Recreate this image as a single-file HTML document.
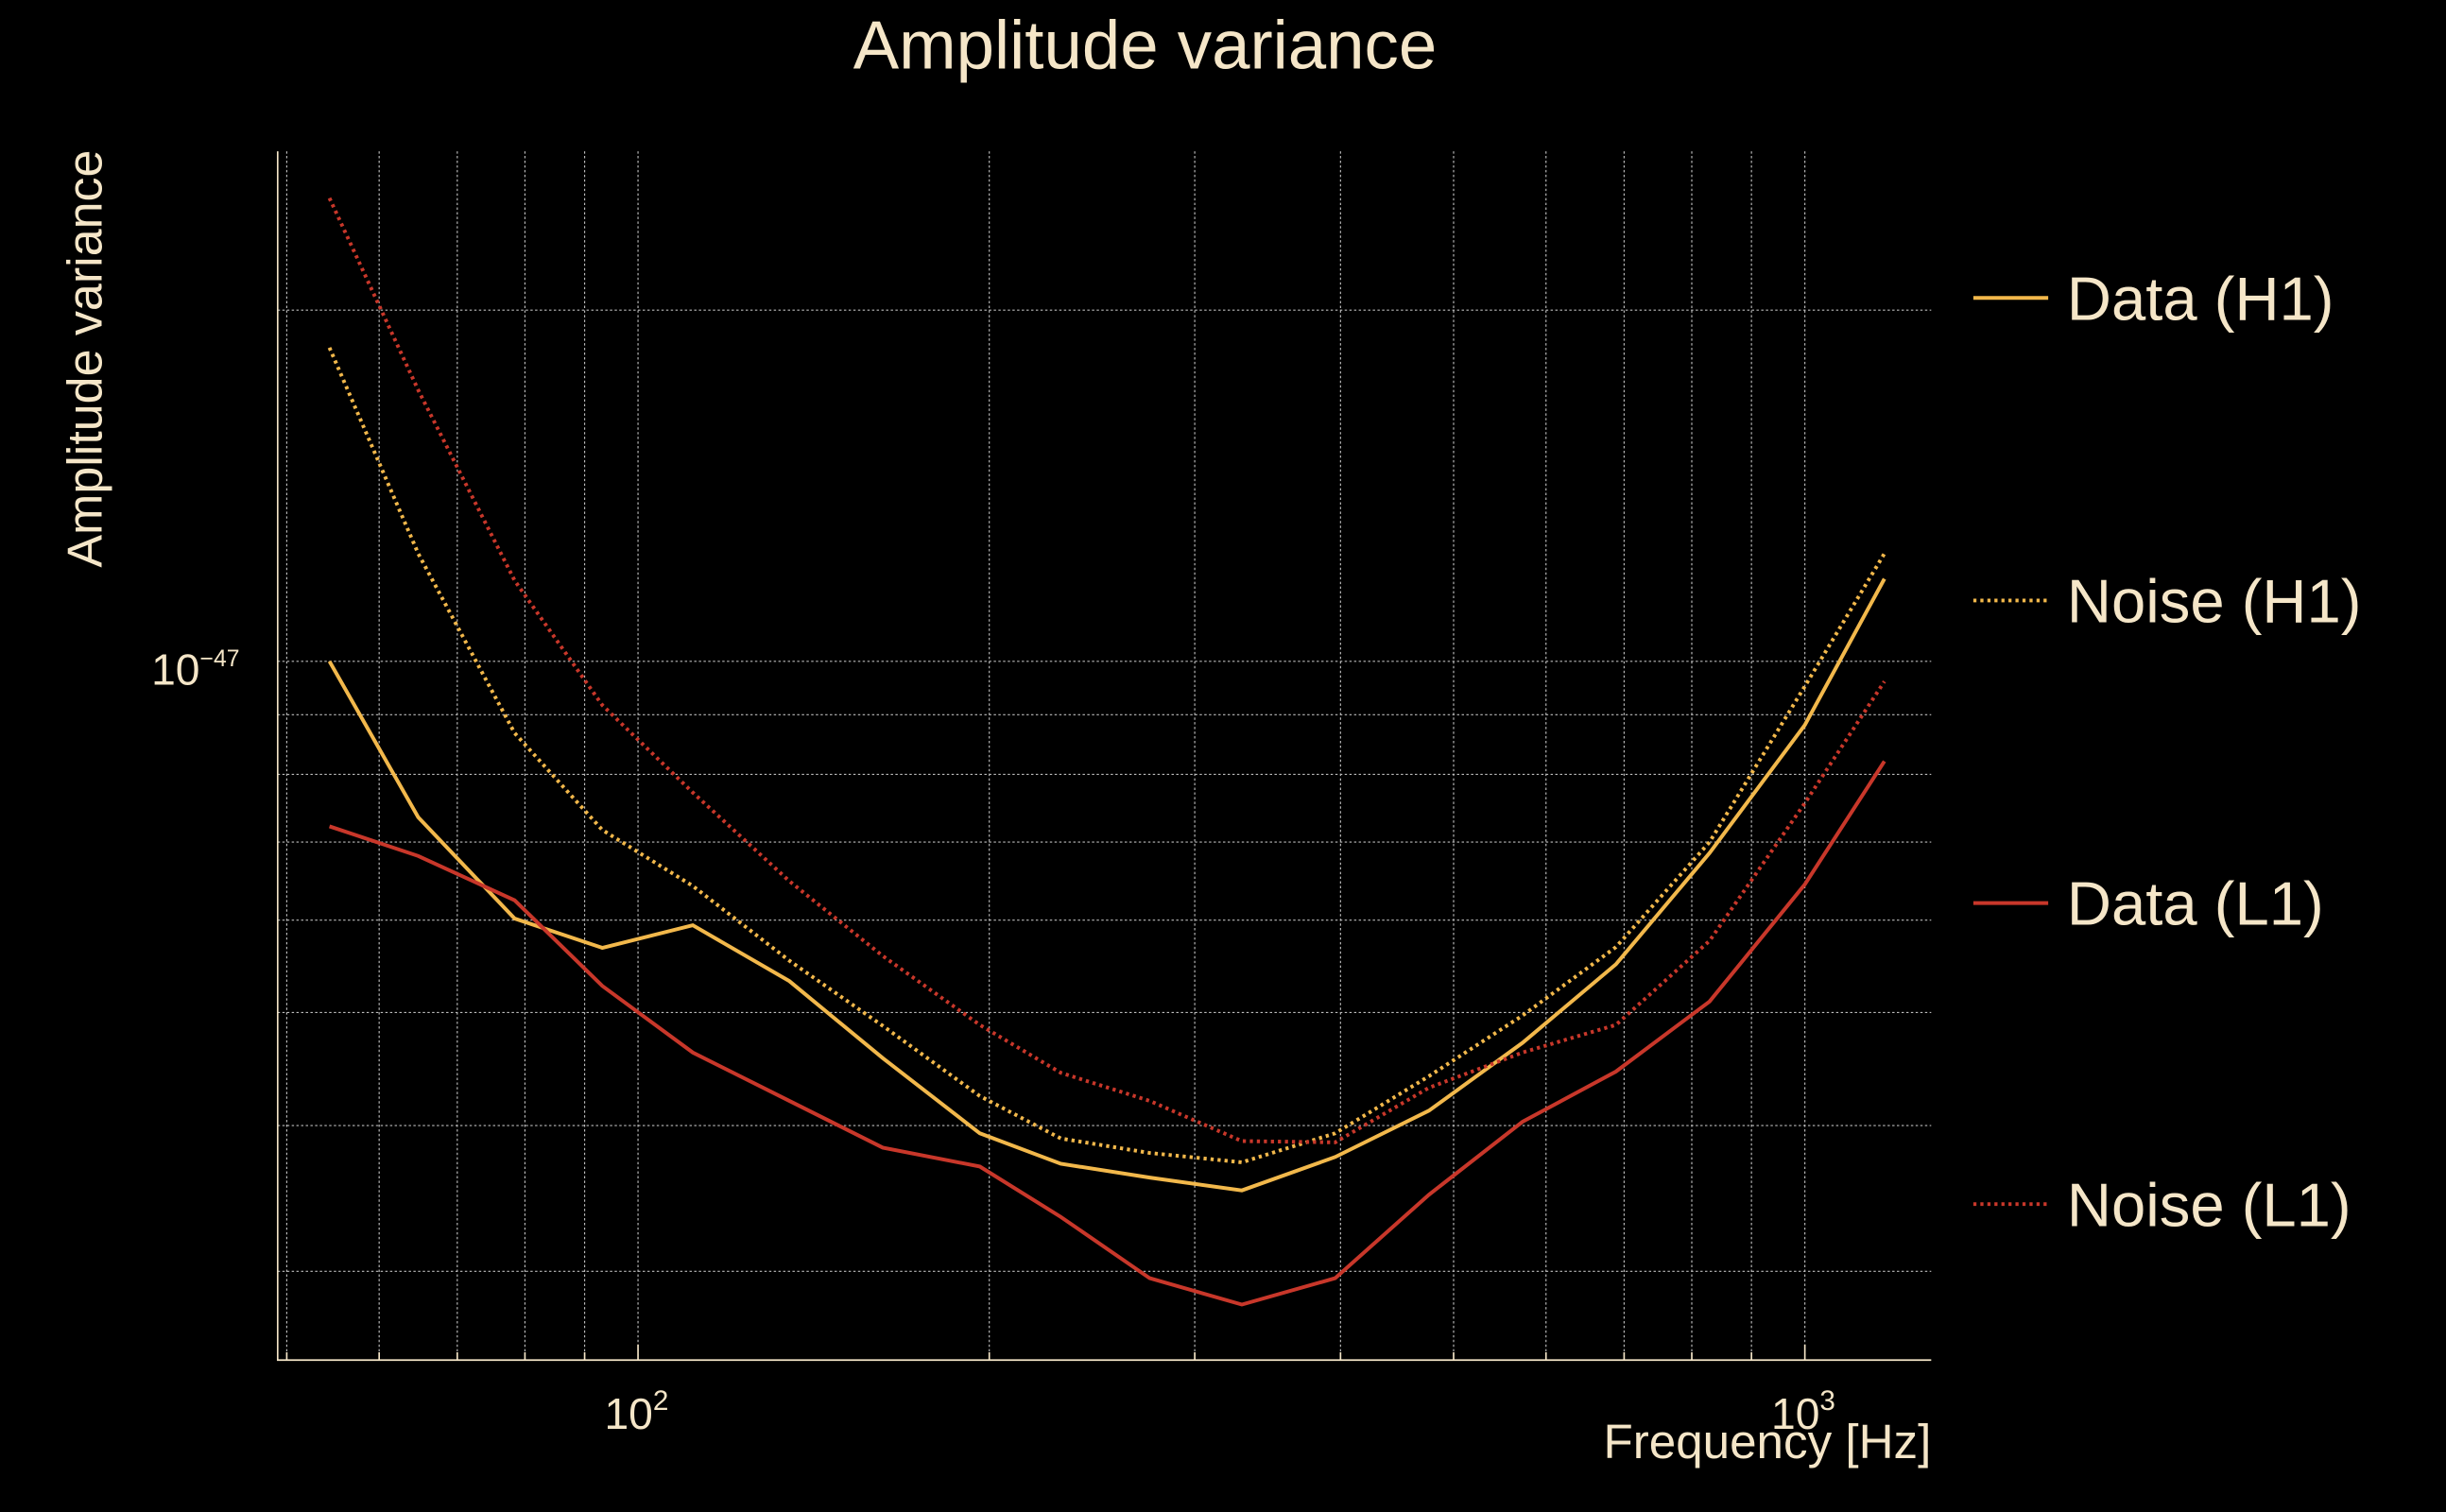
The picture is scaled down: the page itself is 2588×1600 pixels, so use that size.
<!DOCTYPE html>
<html><head><meta charset="utf-8"><style>
html,body{margin:0;padding:0;background:#000;}
svg{display:block;}
text{font-family:"Liberation Sans","DejaVu Sans",sans-serif;fill:#f5e6c8;}
</style></head><body>
<svg id="chart" width="2588" height="1600" viewBox="0 0 1568 969.4" preserveAspectRatio="none" xmlns="http://www.w3.org/2000/svg">
<rect width="1568" height="970" fill="#000"/>
<g id="grid"></g>
<g id="axes"></g>
<g id="series"></g>
<text x="734" y="44" font-size="44" text-anchor="middle">Amplitude variance</text>
<text transform="translate(65,230) rotate(-90)" font-size="31.5" text-anchor="middle">Amplitude variance</text>
<text x="1238" y="935" font-size="31" text-anchor="end">Frequency [Hz]</text>
<g id="legend"></g>
</svg>
<script>
const freqs=[54.4,64.8,78.4,93.2,111.4,134.8,162.1,196.3,230.3,274.5,329.2,395.8,476.2,572.8,688.9,828.6,1000,1170];
// values in units of 1e-48
const dataH1=[10.0,7.35,6.02,5.68,5.94,5.32,4.57,3.94,3.71,3.61,3.52,3.76,4.12,4.71,5.50,6.85,8.82,11.77];
const noiseH1=[18.57,12.37,8.68,7.17,6.42,5.54,4.87,4.24,3.90,3.79,3.72,3.94,4.41,4.97,5.69,7.00,9.52,12.37];
const dataL1=[7.22,6.81,6.24,5.27,4.62,4.20,3.83,3.69,3.34,2.96,2.81,2.96,3.49,4.03,4.45,5.11,6.44,8.21];
const noiseL1=[24.95,17.08,11.73,9.17,7.72,6.48,5.59,4.88,4.44,4.20,3.88,3.87,4.31,4.62,4.88,5.76,7.56,9.61];
const xGrid=[50,60,70,80,90,100,200,300,400,500,600,700,800,900,1000];
const yGrid=[3,4,5,6,7,8,9,10,20];
const seriesNames=['Data (H1)','Noise (H1)','Data (L1)','Noise (L1)'];

const NS='http://www.w3.org/2000/svg';
const DEC=748, L=178, R=1238, T=97, B=872;
function xs(f){return 409+DEC*(Math.log10(f)-2);}
function ys(v){return 424-DEC*(Math.log10(v)-1);}
function mk(tag,attrs,parent){const e=document.createElementNS(NS,tag);for(const k in attrs)e.setAttribute(k,attrs[k]);parent.appendChild(e);return e;}
const grid=document.getElementById('grid'),axes=document.getElementById('axes'),ser=document.getElementById('series'),leg=document.getElementById('legend');
xGrid.forEach(f=>{const x=xs(f);
 const g=mk('line',{x1:x,x2:x,y1:T,y2:B,stroke:'#bbb','stroke-width':0.7,'stroke-dasharray':'1.5,1.5'},grid);
 
 
 const t=mk('line',{x1:x,x2:x,y1:B,y2:B-(Math.log10(f)%1===0?10:5),stroke:'#f5e6c8','stroke-width':1},axes);
 
 
});
yGrid.forEach(v=>{const y=ys(v);
 const g=mk('line',{x1:L,x2:R,y1:y,y2:y,stroke:'#bbb','stroke-width':0.7,'stroke-dasharray':'1.5,1.5'},grid);
 
 
});
const ax=mk('path',{d:`M${L},${T}V${B}H${R}`,stroke:'#f5e6c8','stroke-width':1,fill:'none'},axes);


function expLabel(x,y,base,exp,anchor,name,es){
 const t=mk('text',{x:x,y:y,'font-size':28,'text-anchor':anchor},axes);
 
 
 t.appendChild(document.createTextNode(base));
 const s=mk('tspan',{dy:-12,'font-size':es},t);s.textContent=exp;
}
expLabel(408,916,'10','2','middle','x-tick-label-100',18);
expLabel(1156,916,'10','3','middle','x-tick-label-1000',18);
expLabel(97,439,'10','−47','start','y-tick-label-1e-47',15);
const cols=['#f2b84b','#f2b84b','#c8372a','#c8372a'];
const dashes=[null,'2,2.5',null,'2,2.5'];
const sets=[dataH1,noiseH1,dataL1,noiseL1];
const ids=['data-h1-line','noise-h1-line','data-l1-line','noise-l1-line'];
sets.forEach((arr,i)=>{
 const d=arr.map((v,j)=>(j?'L':'M')+xs(freqs[j]).toFixed(1)+','+ys(v).toFixed(1)).join('');
 const a={d:d,stroke:cols[i],'stroke-width':2.4,fill:'none'};if(dashes[i])a['stroke-dasharray']=dashes[i];
 const p=mk('path',a,ser);
 
 
});
const legY=[191,385,579,772];
seriesNames.forEach((n,i)=>{
 const g=mk('g',{},leg);
 
 
 const a={x1:1265,x2:1313,y1:legY[i],y2:legY[i],stroke:cols[i],'stroke-width':2.4};if(dashes[i])a['stroke-dasharray']=dashes[i];
 mk('line',a,g);
 const t=mk('text',{x:1325,y:legY[i]+14,'font-size':39.5},g);t.textContent=n;
});
</script>
</body></html>
